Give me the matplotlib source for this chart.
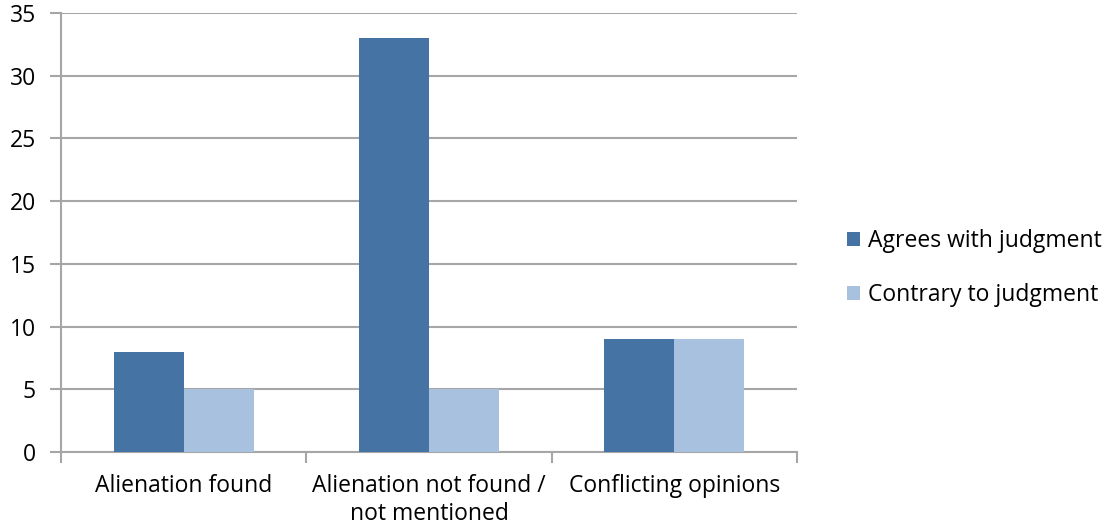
import matplotlib
matplotlib.use("Agg")
import matplotlib.pyplot as plt
import numpy as np

categories = ["Alienation found", "Alienation not found /\nnot mentioned", "Conflicting opinions"]
series_names = ["Agrees with judgment", "Contrary to judgment"]
agrees = [8, 33, 9]
contrary = [5, 5, 9]
colors = ["#4573A4", "#A7C1DF"]
yticks = [0, 5, 10, 15, 20, 25, 30, 35]

plt.rcParams['font.family'] = ['Open Sans', 'DejaVu Sans']
FS = 16.5

fig = plt.figure(figsize=(11.10, 5.31), dpi=100)
ax = fig.add_axes([61/1110, 1-452/531, (797-61)/1110, (452-13)/531])

x = np.arange(len(categories))
w = 0.285
for i, (vals, name, c) in enumerate(zip([agrees, contrary], series_names, colors)):
    ax.bar(x + (i - 0.5) * w, vals, width=w, color=c, label=name, zorder=3,
           linewidth=0)

ax.set_xlim(-0.5, len(categories) - 0.5)
ax.set_ylim(0, 35)
ax.set_yticks(yticks)
ax.set_yticklabels([str(v) for v in yticks], fontsize=FS)
ax.yaxis.grid(True, color="#A6A6A6", linewidth=1.5, zorder=0)
ax.tick_params(axis='y', length=8, width=1.5, color="#A6A6A6", pad=10)

ax.set_xticks(x)
ax.set_xticklabels(categories, fontsize=FS, linespacing=1.2)
ax.set_xticks(np.arange(len(categories) + 1) - 0.5, minor=True)
ax.tick_params(axis='x', which='major', length=0, pad=16)
ax.tick_params(axis='x', which='minor', length=8, width=1.5, color="#A6A6A6")

for s in ["top", "right"]:
    ax.spines[s].set_visible(False)
for s in ["left", "bottom"]:
    ax.spines[s].set_color("#A6A6A6")
    ax.spines[s].set_linewidth(1.5)

leg = fig.legend(loc="center left", bbox_to_anchor=(826/1110, 1-268/531), frameon=False,
                 fontsize=FS, handlelength=0.6, handleheight=0.6, handletextpad=0.35,
                 labelspacing=1.3)

fig.savefig("out.png", dpi=100)
